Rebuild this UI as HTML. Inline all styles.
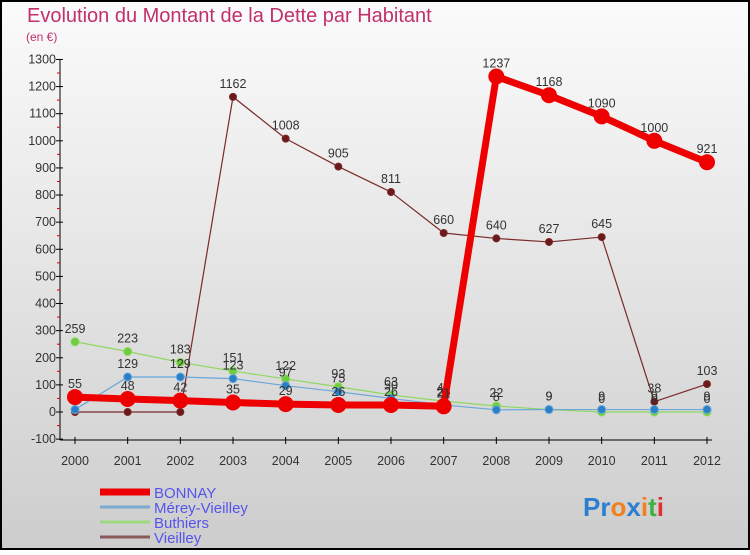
<!DOCTYPE html>
<html><head><meta charset="utf-8"><style>
html,body{margin:0;padding:0;}
body{width:750px;height:550px;overflow:hidden;font-family:"Liberation Sans",sans-serif;}
svg text{font-family:"Liberation Sans",sans-serif;}
</style></head><body>
<svg id="chart" width="750" height="550" viewBox="0 0 750 550">
<defs><linearGradient id="bg" x1="0" y1="0" x2="0" y2="1"><stop offset="0" stop-color="#fbfbfb"/><stop offset="1" stop-color="#cdcdcd"/></linearGradient></defs>
<rect x="1" y="1" width="748" height="548" fill="url(#bg)" stroke="#000" stroke-width="2"/>
<text x="27" y="22" font-size="20" fill="#c0306a">Evolution du Montant de la Dette par Habitant</text>
<text x="26" y="41" font-size="12" fill="#c0306a">(en €)</text>
<g id="axes"></g><g id="series"></g><g id="legend"></g>
<text x="583" y="516" font-size="26" font-weight="bold"><tspan fill="#2a7fd0">Pr</tspan><tspan fill="#f08020">o</tspan><tspan fill="#2a7fd0">x</tspan><tspan fill="#f08020">i</tspan><tspan fill="#40b040">t</tspan><tspan fill="#e03030">i</tspan></text>
</svg>
<script>
const years=[2000,2001,2002,2003,2004,2005,2006,2007,2008,2009,2010,2011,2012];
const yTicks=[-100,0,100,200,300,400,500,600,700,800,900,1000,1100,1200,1300];
const bonnay=[55,48,42,35,29,26,26,21,1237,1168,1090,1000,921];
const merey=[9,129,129,123,97,75,50,26,8,9,9,9,9];
const buthiers=[259,223,183,151,122,93,63,40,22,9,0,0,0];
const vieilley=[0,0,0,1162,1008,905,811,660,640,627,645,38,103];
const seriesNames=["BONNAY","Mérey-Vieilley","Buthiers","Vieilley"];
const NS="http://www.w3.org/2000/svg";
const xS=i=>75+i*(707-75)/12;
const yS=v=>412-v*0.2712;
function mk(t,a,p){const e=document.createElementNS(NS,t);for(const k in a)e.setAttribute(k,a[k]);p.appendChild(e);return e;}
const axes=document.getElementById('axes');
const yAxis=mk('line',{x1:60,y1:yS(1300),x2:60,y2:440,stroke:'#000'},axes);


const xAxis=mk('line',{x1:60,y1:440,x2:712,y2:440,stroke:'#000'},axes);


yTicks.forEach((v,i)=>{
  const y=yS(v);
  mk('line',{x1:56,y1:y,x2:63,y2:y,stroke:'#000'},axes);
  if(i<yTicks.length-1) mk('line',{x1:57,y1:yS(v+50),x2:60,y2:yS(v+50),stroke:'#e00000'},axes);
  const t=mk('text',{x:56,y:y+4,'font-size':12.5,'text-anchor':'end',fill:'#333'},axes);
  t.textContent=v;
  
  
});
years.forEach((yr,i)=>{
  const x=xS(i);
  mk('line',{x1:x,y1:437,x2:x,y2:444,stroke:'#000'},axes);
  const t=mk('text',{x:x,y:465,'font-size':12.5,'text-anchor':'middle',fill:'#333'},axes);
  t.textContent=yr;
  
  
});
const sg=document.getElementById('series');
function draw(vals,color,dot,w,r,name){
  const g=mk('g',{},sg);
  
  
  const pl=mk('polyline',{points:vals.map((v,i)=>xS(i)+','+yS(v)).join(' '),fill:'none',stroke:color,'stroke-width':w,'stroke-linejoin':'round'},g);
  
  
  vals.forEach((v,i)=>{
    const c=mk('circle',{cx:xS(i),cy:yS(v),r:r,fill:dot,stroke:color,'stroke-width':1},g);
    
    
  });
  vals.forEach((v,i)=>{
    const t=mk('text',{x:xS(i),y:yS(v)-9,'font-size':12.5,'text-anchor':'middle',fill:'#333'},sg);
    t.textContent=v;
    
    
  });
}
draw(vieilley,'#7a2a2a','#6a1a1a',1.2,3.5,'vieilley');
draw(buthiers,'#8ed860','#70cc40',1.2,4,'buthiers');
draw(merey,'#6aa6d8','#2a80c8',1.2,4,'merey-vieilley');
draw(bonnay,'#ee0000','#ee0000',7,7.5,'bonnay');
const lg=document.getElementById('legend');
const lc=['#ee0000','#7aaad0','#9ed880','#8a5a5a'],lw=[7,3,3,3];
seriesNames.forEach((n,i)=>{
  const y=492+i*15;
  const l=mk('line',{x1:100,y1:y,x2:150,y2:y,stroke:lc[i],'stroke-width':lw[i]},lg);
  
  
  const t=mk('text',{x:154,y:y+6,'font-size':15,fill:'#5555ee'},lg);
  t.textContent=n;
  
  
});
</script>
</body></html>
